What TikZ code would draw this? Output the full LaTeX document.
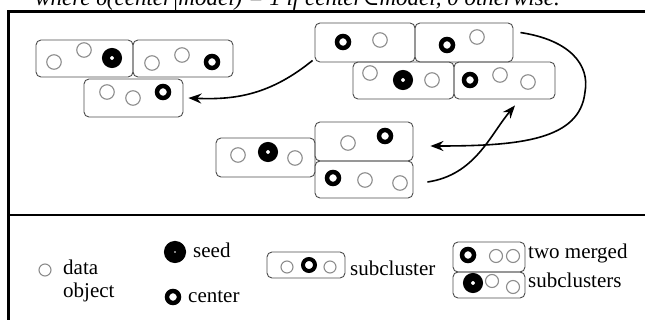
\documentclass[tikz,border=0pt]{standalone}
\usepackage{fontspec}
\setmainfont{Liberation Serif}
\newfontfamily\symfont{DejaVu Serif}
\usetikzlibrary{arrows.meta}
\tikzset{
  font={\fontsize{21pt}{22}\selectfont}}

\begin{document}
\begin{tikzpicture}[x=1pt,y=-1pt]
\tikzstyle{every node}+=[inner sep=0pt]
\tikzstyle{sub}=[draw=black!70,line width=0.9pt,rounded corners=5pt]
\tikzstyle{obj}=[circle,draw=black!45,line width=1.1pt,minimum size=14.5pt]
\tikzstyle{ctr}=[circle,draw=black,line width=4.5pt,minimum size=12pt]
\tikzstyle{seed}=[circle,draw=black,fill=white,line width=8pt,minimum size=12pt]
\tikzstyle{arw}=[black,line width=1.6pt,-{Stealth[length=13pt,width=10pt]}]
\useasboundingbox (0,0) rectangle (645,320);
\node [anchor=base west,font=\fontsize{23pt}{24}\selectfont\itshape] (cap) at (35,6) {where δ(center|model) = 1 if center{\symfont\itshape ∈}model, 0 otherwise.};
\draw [black,line width=3pt] (8,321) -- (8,12) -- (646,12);
\draw [black,line width=2.5pt] (8,215) -- (646,215);
\node [sub,minimum width=97pt,minimum height=37pt] (A1) at (84.5,58.5) {};
\node [sub,minimum width=100pt,minimum height=37pt] (A2) at (183,58.5) {};
\node [sub,minimum width=99pt,minimum height=38pt] (A3) at (133.5,98) {};
\node [obj] (a1) at (54,62) {};
\node [obj] (a2) at (84,50) {};
\node [seed] (a3) at (112,58) {};
\node [obj] (a4) at (152,63) {};
\node [obj] (a5) at (182,55) {};
\node [ctr] (a6) at (212,62) {};
\node [obj] (a7) at (107,92) {};
\node [obj] (a8) at (133,98) {};
\node [ctr] (a9) at (163,92) {};
\node [sub,minimum width=100pt,minimum height=39pt] (B1) at (365,42.5) {};
\node [sub,minimum width=98pt,minimum height=39pt] (B2) at (464,42.5) {};
\node [sub,minimum width=101pt,minimum height=37pt] (B3) at (403.5,80.5) {};
\node [sub,minimum width=101pt,minimum height=37pt] (B4) at (504.5,80.5) {};
\node [ctr] (b1) at (343,42) {};
\node [obj] (b2) at (380,40) {};
\node [ctr] (b3) at (447,45) {};
\node [obj] (b4) at (477,37) {};
\node [obj] (b5) at (370,73) {};
\node [seed] (b6) at (403,80) {};
\node [obj] (b7) at (432,80) {};
\node [ctr] (b8) at (470,80) {};
\node [obj] (b9) at (500,75) {};
\node [obj] (b10) at (528,82) {};
\node [sub,minimum width=99pt,minimum height=39pt] (C1) at (265.5,157.5) {};
\node [sub,minimum width=98pt,minimum height=39pt] (C2) at (364,141.5) {};
\node [sub,minimum width=98pt,minimum height=37pt] (C3) at (364,179.5) {};
\node [obj] (c1) at (238,155) {};
\node [seed] (c2) at (268,152) {};
\node [obj] (c3) at (295,158) {};
\node [obj] (c4) at (348,143) {};
\node [ctr] (c5) at (385,136) {};
\node [ctr] (c6) at (333,178) {};
\node [obj] (c7) at (365,180) {};
\node [obj] (c8) at (400,183) {};
\draw [arw] ([xshift=-2pt,yshift=2pt]B1.south west) .. controls (270,95) and (235,100) .. ([xshift=5pt]A3.east);
\draw [arw] ([xshift=7pt,yshift=-10pt]B2.north east) .. controls (570,40) and (590,65) .. (585,92) .. controls (580,140) and (520,146) .. ([xshift=17pt,yshift=-4.5pt]C2.east);
\draw [arw] ([xshift=14pt,yshift=-2.5pt]C3.east) .. controls (475,175) and (490,135) .. ([xshift=10.5pt,yshift=-6pt]B4.south);
\node [obj,minimum size=12pt] (k1) at (45,270) {};
\node [anchor=west] (k1a) at (63,267) {data};
\node [anchor=west] (k1b) at (63,292) {object};
\node [seed,minimum size=12pt,line width=10pt] (k2) at (175,252) {};
\node [anchor=west] (k2a) at (193,250) {seed};
\node [ctr,minimum size=12pt] (k3) at (173,297) {};
\node [anchor=west] (k3a) at (188,297) {center};
\node [sub,minimum width=78pt,minimum height=26pt] (L1) at (306,265) {};
\node [obj,minimum size=12pt] (l1) at (287,267) {};
\node [ctr,minimum size=12pt,line width=4pt] (l2) at (309,265) {};
\node [obj,minimum size=12pt] (l3) at (330,267) {};
\node [anchor=west] (L1a) at (350,268) {subcluster};
\node [sub,minimum width=72pt,minimum height=30pt] (L2) at (489,257) {};
\node [sub,minimum width=72pt,minimum height=26pt] (L3) at (489,285) {};
\node [ctr,minimum size=12pt] (m1) at (468,255) {};
\node [obj,minimum size=13pt] (m2) at (496,256) {};
\node [obj,minimum size=13pt] (m3) at (513,256) {};
\node [seed] (m4) at (473,283) {};
\node [obj,minimum size=13pt] (m5) at (492,281) {};
\node [obj,minimum size=13pt] (m6) at (513,287) {};
\node [anchor=west] (L2a) at (528,253) {two merged};
\node [anchor=west] (L3a) at (528,280) {subclusters};
\end{tikzpicture}
\end{document}
